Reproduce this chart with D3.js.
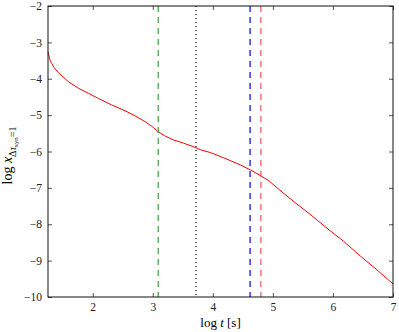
<!DOCTYPE html>
<html>
<head>
<meta charset="utf-8">
<script src="https://cdn.jsdelivr.net/npm/d3@7"></script>
<style>
  body { margin: 0; background: #fff; }
  text { font-family: "Liberation Serif", "DejaVu Serif", serif; }
</style>
</head>
<body>
<svg width="399" height="332"></svg>
<script>
// curve (log t, log x)
var logT = [1.255, 1.288, 1.316, 1.36, 1.427, 1.594, 1.76, 1.93, 2.093, 2.316, 2.538, 2.705, 2.872, 3.01,
            3.09, 3.2, 3.34, 3.51, 3.68, 3.79, 3.96, 4.13, 4.29, 4.46, 4.63, 4.79, 4.93,
            5.07, 5.35, 5.63, 5.90, 6.18, 6.46, 6.73, 7.0];
var logX = [-3.26, -3.48, -3.58, -3.70, -3.83, -4.08, -4.26, -4.40, -4.54, -4.72, -4.88, -5.02, -5.18, -5.34,
            -5.46, -5.57, -5.68, -5.77, -5.87, -5.95, -6.03, -6.14, -6.25, -6.37, -6.51, -6.66, -6.80,
            -7.0, -7.38, -7.74, -8.11, -8.47, -8.88, -9.25, -9.64];

// vertical marker lines
var markers = [
  {x: 3.09, color: "#3aa03a", dash: "6,5"},
  {x: 3.72, color: "#000", dash: "1,3"},
  {x: 4.62, color: "#0000ff", dash: "6,5"},
  {x: 4.80, color: "#f05555", dash: "6,5"}
];

var xTicks = [2, 3, 4, 5, 6, 7];
var yTicks = [-2, -3, -4, -5, -6, -7, -8, -9, -10];

var svg = d3.select("svg"),
    margin = {top: 6, right: 6, bottom: 35, left: 48},
    width = +svg.attr("width") - margin.left - margin.right,
    height = +svg.attr("height") - margin.top - margin.bottom;

var g = svg.append("g").attr("transform", "translate(" + margin.left + "," + margin.top + ")");

var x = d3.scaleLinear().domain([1.255, 7]).range([0, width]);
var y = d3.scaleLinear().domain([-10, -2]).range([height, 0]);

var fmt = function(d) { return String(d).replace("-", "\u2212"); };

// axes with inward ticks on all sides
g.append("g").attr("transform", "translate(0," + height + ")")
  .call(d3.axisBottom(x).tickValues(xTicks).tickSizeInner(-4).tickSizeOuter(0).tickPadding(6).tickFormat(fmt));
g.append("g")
  .call(d3.axisTop(x).tickValues(xTicks).tickSizeInner(-4).tickSizeOuter(0).tickFormat(""));
g.append("g")
  .call(d3.axisLeft(y).tickValues(yTicks).tickSizeInner(-4).tickSizeOuter(0).tickPadding(6).tickFormat(fmt));
g.append("g").attr("transform", "translate(" + width + ",0)")
  .call(d3.axisRight(y).tickValues(yTicks).tickSizeInner(-4).tickSizeOuter(0).tickFormat(""));

g.selectAll(".domain").remove();
g.selectAll(".tick text").attr("font-size", 11.5).attr("fill", "#222")
  .style("font-family", "'Liberation Serif', serif");
g.selectAll(".tick line").attr("stroke", "#555");

// curve
var line = d3.line().x(function(d, i) { return x(logT[i]); }).y(function(d) { return y(d); });
g.append("path")
  .datum(logX)
  .attr("fill", "none")
  .attr("stroke", "red")
  .attr("stroke-width", 1)
  .attr("d", line);

// vertical lines
g.selectAll(".marker").data(markers).enter().append("line")
  .attr("x1", function(d) { return x(d.x); })
  .attr("x2", function(d) { return x(d.x); })
  .attr("y1", 0).attr("y2", height)
  .attr("stroke", function(d) { return d.color; })
  .attr("stroke-width", 1.2)
  .attr("stroke-dasharray", function(d) { return d.dash; });

// frame
g.append("rect").attr("width", width).attr("height", height)
  .attr("fill", "none").attr("stroke", "#111").attr("stroke-width", 1);

// labels
var xl = svg.append("text")
  .attr("x", margin.left + width / 2)
  .attr("y", 327)
  .attr("text-anchor", "middle")
  .attr("font-size", 13);
xl.append("tspan").text("log ");
xl.append("tspan").attr("font-style", "italic").text("t");
xl.append("tspan").text(" [s]");

var yl = svg.append("text")
  .attr("transform", "translate(12," + (margin.top + height / 2 + 4) + ") rotate(-90)")
  .attr("text-anchor", "middle")
  .attr("font-size", 14);
yl.append("tspan").text("log ");
yl.append("tspan").attr("font-style", "italic").text("x");
yl.append("tspan").attr("font-size", 10).attr("dy", 4).text("\u0394");
yl.append("tspan").attr("font-size", 10).attr("font-style", "italic").text("\u03c4");
yl.append("tspan").attr("font-size", 7).attr("dy", 2).text("syn");
yl.append("tspan").attr("font-size", 10).attr("dy", -2).text("=1");
</script>
</body>
</html>
